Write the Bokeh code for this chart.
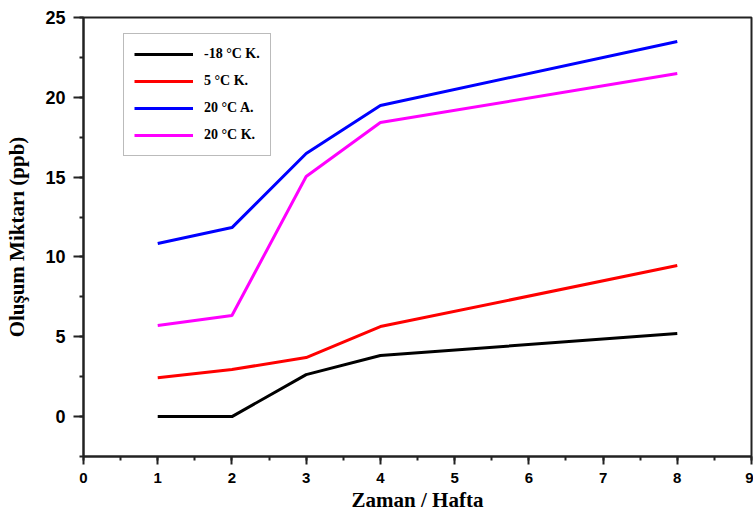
from bokeh.plotting import figure
from bokeh.models import Range1d, SingleIntervalTicker, Legend, LegendItem
from bokeh.embed import file_html
from bokeh.resources import INLINE

weeks = [1, 2, 3, 4, 8]
s_m18k = [0.0, 0.0, 2.63, 3.83, 5.2]
s_5k = [2.44, 2.95, 3.7, 5.64, 9.46]
s_20a = [10.84, 11.84, 16.48, 19.49, 23.5]
s_20k = [5.7, 6.33, 15.04, 18.42, 21.49]
series_names = ["-18 °C K.", "5 °C K.", "20 °C A.", "20 °C K."]
series_values = [s_m18k, s_5k, s_20a, s_20k]
series_colors = ["#000000", "#ff0000", "#0000ff", "#ff00ff"]

p = figure(width=753, height=516, output_backend="svg", toolbar_location=None,
           x_range=Range1d(0, 9), y_range=Range1d(-2.5, 25),
           min_border_left=83, min_border_right=2, min_border_top=17, min_border_bottom=60)

p.xgrid.visible = False
p.ygrid.visible = False
p.outline_line_color = "#222222"
p.outline_line_width = 2
p.background_fill_color = "white"
p.border_fill_color = "white"

items = []
for name, vals, col in zip(series_names, series_values, series_colors):
    r = p.line(weeks, vals, line_color=col, line_width=3)
    items.append(LegendItem(label=name, renderers=[r]))

legend = Legend(items=items, location=(40, 300), padding=10, spacing=7,
                glyph_width=59, glyph_height=20, label_height=20, label_standoff=11,
                label_text_font="Liberation Serif", label_text_font_style="bold",
                label_text_font_size="14px", label_text_color="#000000",
                border_line_color="#777777", border_line_width=1.5,
                background_fill_color="white", background_fill_alpha=1.0, margin=0)
p.add_layout(legend, "center")

p.xaxis.ticker = SingleIntervalTicker(interval=1, num_minor_ticks=2)
p.yaxis.ticker = SingleIntervalTicker(interval=5, num_minor_ticks=2)

for ax in (p.xaxis[0], p.yaxis[0]):
    ax.axis_line_color = "#222222"
    ax.axis_line_width = 2
    ax.major_tick_line_color = "#222222"
    ax.major_tick_line_width = 2
    ax.minor_tick_line_color = "#222222"
    ax.minor_tick_line_width = 2
    ax.major_tick_in = 0
    ax.minor_tick_in = 0
    ax.major_label_text_font = "Liberation Sans"
    ax.major_label_text_font_style = "bold"
    ax.major_label_text_color = "#000000"
    ax.axis_label_text_font = "Liberation Serif"
    ax.axis_label_text_font_style = "bold"
    ax.axis_label_text_color = "#000000"

p.xaxis.major_tick_out = 8
p.xaxis.minor_tick_out = 4
p.xaxis.major_label_text_font_size = "15px"
p.xaxis.major_label_standoff = 8
p.xaxis.axis_label = "Zaman / Hafta"
p.xaxis.axis_label_text_font_size = "21px"
p.xaxis.axis_label_standoff = 2

p.yaxis.major_tick_out = 10
p.yaxis.minor_tick_out = 4
p.yaxis.major_label_text_font_size = "18px"
p.yaxis.major_label_standoff = 8
p.yaxis.axis_label = "Oluşum Miktarı (ppb)"
p.yaxis.axis_label_text_font_size = "21px"
p.yaxis.axis_label_standoff = 13

open("out.html", "w").write(file_html(p, INLINE))
